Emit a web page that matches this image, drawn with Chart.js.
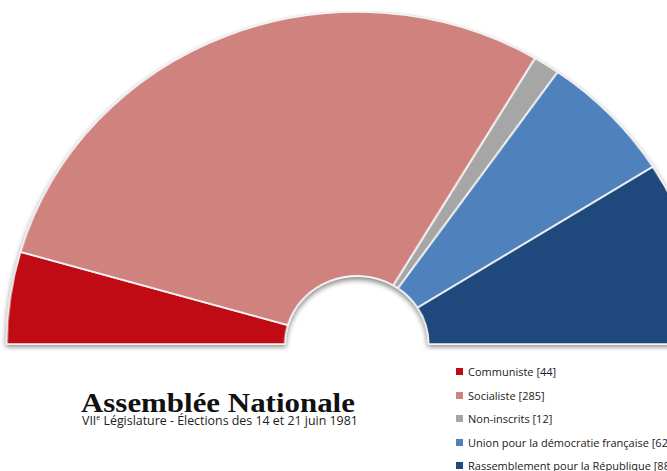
<!DOCTYPE html>
<html>
<head>
<meta charset="utf-8">
<script src="https://cdn.jsdelivr.net/npm/chart.js@4.4.1/dist/chart.umd.min.js"></script>
<style>
  html, body { margin: 0; padding: 0; background: #fff; overflow: hidden; width: 667px; height: 471px; }
  /* the original half ring is a little wider than tall */
  #wrap { position: absolute; left: 0; top: 11px; width: 677px; height: 340px; transform: scaleX(1.054); transform-origin: 0 0; }
  #title { position: absolute; left: 81px; top: 388px; font-family: "Liberation Serif", serif; font-weight: bold; font-size: 27px; color: #111; transform: scaleX(1.145); transform-origin: 0 0; white-space: nowrap; }
  #sub { position: absolute; left: 82px; top: 412px; font-family: "Open Sans", sans-serif; font-size: 12.4px; color: #222; white-space: nowrap; }
  #legend { position: absolute; left: 456px; top: 364px; font-family: "Open Sans", sans-serif; font-size: 11px; color: #1a1a1a; }
  #legend div { height: 23.5px; line-height: 16px; white-space: nowrap; }
  #legend span { display: inline-block; width: 7px; height: 7px; margin-right: 5px; vertical-align: 1px; }
</style>
</head>
<body>
<div id="wrap"><canvas id="c"></canvas></div>
<div id="title">Assemblée Nationale</div>
<div id="sub">VII<sup style="font-size:7px">e</sup> Législature - Élections des 14 et 21 juin 1981</div>
<div id="legend"></div>
<script>
const parties = ['Communiste', 'Socialiste', 'Non-inscrits', 'Union pour la démocratie française', 'Rassemblement pour la République'];
const seats = [44, 285, 12, 62, 88];
const colors = ['#C00A14', '#D0827F', '#A6A6A6', '#4F81BD', '#1F497D'];

// shadow behind the whole half ring, drawn before the slices
const ringShadow = {
    id: 'ringShadow',
    beforeDatasetsDraw(chart) {
        const arc = chart.getDatasetMeta(0).data[0];
        if (!arc) return;
        const { x, y, innerRadius, outerRadius } = arc;
        const c = chart.ctx;
        c.save();
        c.shadowColor = 'rgba(0,0,0,0.45)';
        c.shadowBlur = 5;
        c.shadowOffsetY = 3;
        c.fillStyle = '#d9d9d9';
        c.beginPath();
        c.arc(x, y, outerRadius + 1, Math.PI, 2 * Math.PI);
        c.arc(x, y, innerRadius - 1, 2 * Math.PI, Math.PI, true);
        c.closePath();
        c.fill();
        c.restore();
    }
};

new Chart(document.getElementById('c'), {
    type: 'doughnut',
    data: {
        labels: parties,
        datasets: [{ data: seats, backgroundColor: colors, borderColor: '#f4f4f4', borderWidth: 1.8, borderAlign: 'center' }]
    },
    options: {
        responsive: true, maintainAspectRatio: false, animation: false,
        rotation: -90, circumference: 180, cutout: '20.5%',
        layout: { padding: { top: 0, bottom: 6 } },
        plugins: { legend: { display: false }, tooltip: { enabled: false } }
    },
    plugins: [ringShadow]
});

const lg = document.getElementById('legend');
parties.forEach((p, i) => {
    const d = document.createElement('div');
    d.innerHTML = `<span style="background:${colors[i]}"></span>${p} [${seats[i]}]`;
    lg.appendChild(d);
});
</script>
</body>
</html>
